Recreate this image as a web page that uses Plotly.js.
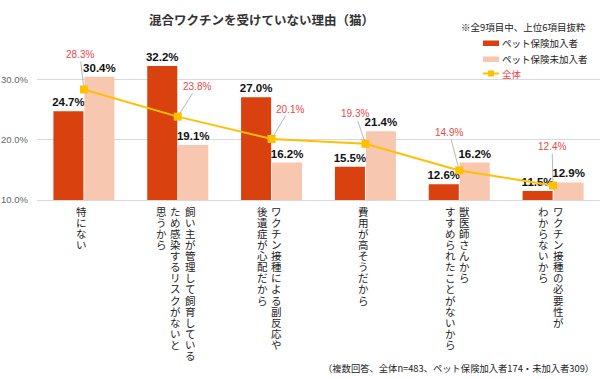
<!DOCTYPE html>
<html><head><meta charset="utf-8">
<script src="https://cdn.plot.ly/plotly-3.0.1.min.js"></script>
<style>body{margin:0;background:#fff}#c{width:600px;height:379px}</style>
</head><body><div id="c"></div>
<script>
// ---- data ----
const categories = [
  ['特にない'],
  ['飼い主が管理して飼育している','ため感染するリスクがないと','思うから'],
  ['ワクチン接種による副反応や','後遺症が心配だから'],
  ['費用が高そうだから'],
  ['獣医師さんから','すすめられたことがないから'],
  ['ワクチン接種の必要性が','わからないから']
];
const insured   = [24.7, 32.2, 27.0, 15.5, 12.6, 11.5];
const uninsured = [30.4, 19.1, 16.2, 21.4, 16.2, 12.9];
const overall   = [28.3, 23.8, 20.1, 19.3, 14.9, 12.4];
const seriesNames = ['ペット保険加入者', 'ペット保険未加入者', '全体'];
const yTicks = [10, 20, 30];
const titleText = '混合ワクチンを受けていない理由（猫）';
const noteText = '※全9項目中、上位6項目抜粋';
const footText = '（複数回答、全体n=483、ペット保険加入者174・未加入者309）';

// ---- styling ----
const DARK = '#D9410F', LIGHT = '#F7C7B0', GOLD = '#FFC000', RED = '#EE4646';
const JP = '"Noto Sans CJK JP", "Noto Sans", sans-serif';
const NUM = '"Liberation Sans", Arial, sans-serif';
const L = 37, R = 0, T = 49, B = 179, W = 600, H = 379;
const PW = W - L - R, PH = H - T - B;
const px = v => (v - L) / PW;
const py = v => (H - B - v) / PH;
const VFONT = 10.5, VSPACE = 11.07;

const idx = categories.map((c, i) => i);

const traces = [
  {type:'bar', x: idx, y: insured, name: seriesNames[0], marker:{color: DARK},
   texttemplate:'%{y:.1f}%', textposition:'outside', constraintext:'none', cliponaxis:false,
   textfont:{family: NUM, size: 11.5, color:'#111', weight:'bold'}, hoverinfo:'skip'},
  {type:'bar', x: idx, y: uninsured, name: seriesNames[1], marker:{color: LIGHT},
   texttemplate:'%{y:.1f}%', textposition:'outside', constraintext:'none', cliponaxis:false,
   textfont:{family: NUM, size: 11.5, color:'#111', weight:'bold'}, hoverinfo:'skip'},
  {type:'scatter', mode:'lines+markers', x: idx, y: overall, name: seriesNames[2],
   line:{color: GOLD, width: 2}, marker:{symbol:'square', size: 8, color: GOLD}, cliponaxis:false, hoverinfo:'skip'}
];

const annotations = [];
// red labels with leader lines for overall series
const offs = [[-4,-35],[19,-30],[18,-30],[-10,-30],[-10,-38],[-1,-39]];
overall.forEach((v, i) => {
  annotations.push({x: i, y: v, xref:'x', yref:'y', text: v.toFixed(1) + '%',
    showarrow: true, arrowhead: 0, arrowwidth: 0.7, arrowcolor: '#999', ax: offs[i][0], ay: offs[i][1],
    standoff: 4, font:{family: NUM, size: 10, color: RED}});
});
// vertical category labels (columns right-to-left), one annotation per column
const colGap = 14.3;
categories.forEach((cols, i) => {
  const n = cols.length;
  cols.forEach((col, j) => {
    const xs = ((n - 1) / 2 - j) * colGap - 2;
    annotations.push({x: i, xref:'x', y: 0, yref:'paper', xshift: xs, yshift: -3,
      xanchor:'center', yanchor:'top', showarrow:false, text: Array.from(col).join('<br>'),
      borderpad: 0, name: 'vlabel', font:{family: JP, size: VFONT, color:'#222'}});
  });
});
// title, note, footer
annotations.push({xref:'paper', yref:'paper', x: px(261), y: py(19), text: titleText, showarrow:false,
  xanchor:'center', yanchor:'middle', font:{family: JP, size: 12.5, color:'#333', weight:'bold'}});
annotations.push({xref:'paper', yref:'paper', x: px(459), y: py(27), text: noteText, showarrow:false,
  xanchor:'left', yanchor:'middle', font:{family: JP, size: 9.5, color:'#222'}});
annotations.push({xref:'paper', yref:'paper', x: px(596), y: py(368), text: footText, showarrow:false,
  xanchor:'right', yanchor:'middle', font:{family: JP, size: 9.3, color:'#222'}});
// custom legend
const legY = [43, 59, 73.5];
const shapes = [
  {type:'rect', xref:'paper', yref:'paper', x0: px(483), x1: px(499), y0: py(40.5), y1: py(46), fillcolor: DARK, line:{width:0}},
  {type:'rect', xref:'paper', yref:'paper', x0: px(483), x1: px(499), y0: py(56.5), y1: py(62), fillcolor: LIGHT, line:{width:0}},
  {type:'line', xref:'paper', yref:'paper', x0: px(483), x1: px(499), y0: py(73.5), y1: py(73.5), line:{color: GOLD, width: 2}},
  {type:'rect', xref:'paper', yref:'paper', x0: px(488), x1: px(494), y0: py(70.5), y1: py(76.5), fillcolor: GOLD, line:{width:0}}
];
seriesNames.forEach((nm, i) => {
  annotations.push({xref:'paper', yref:'paper', x: px(500), y: py(legY[i]), text: nm, showarrow:false,
    xanchor:'left', yanchor:'middle', font:{family: JP, size: 9.5, color: i === 2 ? RED : '#222'}});
});

const layout = {
  width: W, height: H, margin:{l: L, r: R, t: T, b: B, pad: 0},
  paper_bgcolor:'#fff', plot_bgcolor:'#fff', showlegend:false,
  barmode:'group', bargap: 0.34, bargroupgap: 0.03,
  xaxis:{range:[-0.5, categories.length - 0.5], showticklabels:false, showgrid:false, zeroline:false,
    showline:true, linecolor:'#D9D9D9', linewidth:1, fixedrange:true},
  yaxis:{range:[10, 35], tickvals: yTicks, ticktext: yTicks.map(v => v.toFixed(1) + '%'),
    showgrid:true, gridcolor:'#D9D9D9', zeroline:false, showline:false, ticklabelstandoff: 8,
    tickfont:{family: NUM, size: 9.5, color:'#666'}, fixedrange:true},
  annotations, shapes,
  font:{family: JP}
};
Plotly.newPlot('c', traces, layout, {staticPlot:true, displayModeBar:false}).then(gd => {
  // tighten line spacing of the vertical (tategaki) labels to one character per line
  const ratio = VSPACE / (VFONT * 1.3);
  gd.querySelectorAll('.annotation-text').forEach(t => {
    const lines = t.querySelectorAll('tspan.line');
    if (lines.length < 2) return;
    lines.forEach(ts => {
      const dy = ts.getAttribute('dy');
      if (dy && dy.endsWith('em')) ts.setAttribute('dy', (parseFloat(dy) * ratio).toFixed(4) + 'em');
    });
  });
});
</script></body></html>
